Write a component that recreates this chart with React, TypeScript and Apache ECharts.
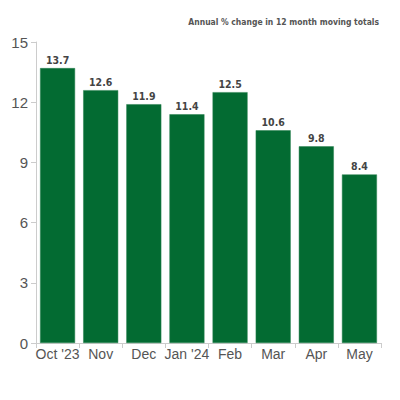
import { useEffect, useRef } from "react";
import * as echarts from "echarts";

const months = ["Oct '23", "Nov", "Dec", "Jan '24", "Feb", "Mar", "Apr", "May"];
const changes = [13.7, 12.6, 11.9, 11.4, 12.5, 10.6, 9.8, 8.4];
const yTicks = [0, 3, 6, 9, 12, 15];
const subtitle = "Annual % change in 12 month moving totals";

export default function App() {
  const chartRef = useRef<HTMLDivElement>(null);

  useEffect(() => {
    if (!chartRef.current) return;
    const chart = echarts.init(chartRef.current, null, { renderer: "svg" });

    const option: echarts.EChartsOption = {
      animation: false,
      backgroundColor: "#ffffff",
      title: {
        text: subtitle,
        right: 16,
        top: 12,
        textStyle: {
          fontFamily: "'Liberation Sans Narrow', 'DejaVu Sans Condensed', sans-serif",
          fontSize: 8.5,
          fontWeight: "bold",
          color: "#555555",
        },
      },
      grid: { left: 36, right: 19, top: 42, bottom: 57 },
      xAxis: {
        type: "category",
        data: months,
        axisLine: { lineStyle: { color: "#cccccc" } },
        axisTick: { show: true, length: 5, lineStyle: { color: "#cccccc" } },
        axisLabel: {
          fontFamily: "'Liberation Sans', Arial, sans-serif",
          fontSize: 14,
          color: "#555555",
          margin: 4,
          interval: 0,
        },
      },
      yAxis: {
        type: "value",
        min: yTicks[0],
        max: yTicks[yTicks.length - 1],
        interval: 3,
        splitLine: { show: false },
        axisLine: { show: true, lineStyle: { color: "#cccccc" } },
        axisTick: { show: true, length: 5, lineStyle: { color: "#cccccc" } },
        axisLabel: {
          fontFamily: "'Liberation Sans', Arial, sans-serif",
          fontSize: 15,
          color: "#555555",
          margin: 8,
        },
      },
      series: [
        {
          type: "bar",
          data: changes,
          barWidth: 35,
          itemStyle: { color: "#036b32", borderColor: "#2a8050", borderWidth: 0.5 },
          label: {
            show: true,
            position: "top",
            distance: 3,
            formatter: (p: any) => p.value.toFixed(1),
            fontFamily: "'Liberation Sans Narrow', 'DejaVu Sans Condensed', sans-serif",
            fontSize: 10.5,
            fontWeight: "bold",
            color: "#444444",
          },
        },
      ],
    };

    chart.setOption(option);
    return () => {
      chart.dispose();
    };
  }, []);

  return <div ref={chartRef} style={{ width: 400, height: 400, margin: -8 }} />;
}
